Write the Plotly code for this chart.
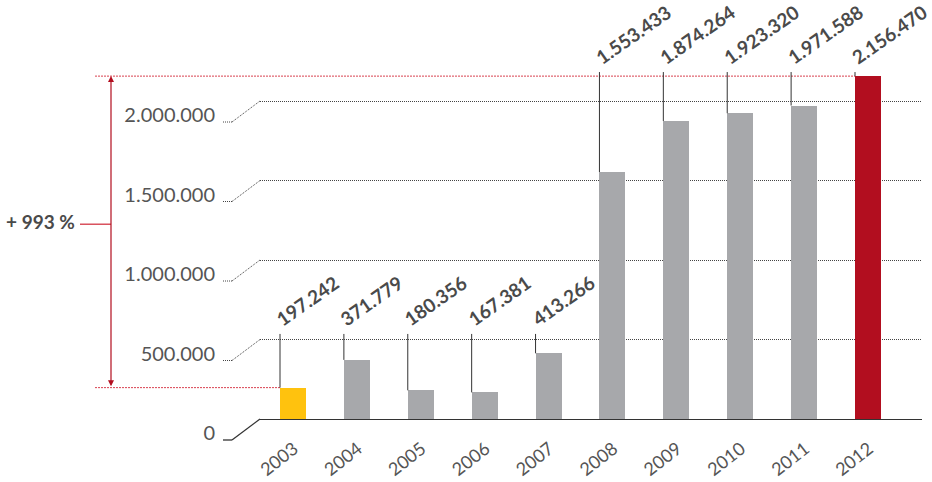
import plotly.graph_objects as go

# ---- data ----
years = [2003, 2004, 2005, 2006, 2007, 2008, 2009, 2010, 2011, 2012]
values = [197242, 371779, 180356, 167381, 413266, 1553433, 1874264, 1923320, 1971588, 2156470]
ytick_vals = [0, 500000, 1000000, 1500000, 2000000]
ytick_text = ["0", "500.000", "1.000.000", "1.500.000", "2.000.000"]

# ---- style / layout constants ----
W, H = 932, 482
ML, MR = 260, 10
XR = [2002.4835, 2012.845]
YR = [-396226, 2635220]
BW = 0.407
COL_FIRST, COL_MID, COL_LAST = "#FFC20E", "#A7A8AB", "#B20E1F"
colors = [COL_FIRST] + [COL_MID] * (len(years) - 2) + [COL_LAST]
FONT = "Lato"
TXT = "#4a4a4a"
LEADER_LOW, LEADER_HIGH = 535000, 2182000
RED_DOT = "#D8414F"
GRID_DASH = "1px,1px"


def fmt(v):
    return f"{v:,}".replace(",", ".")


fig = go.Figure()
fig.add_trace(go.Bar(x=years, y=values, width=BW, marker=dict(color=colors, line=dict(width=0)),
                     hoverinfo="skip"))

shapes = []
annotations = []

# connectors from tick labels to gridlines
for v in ytick_vals:
    dash = "solid" if v == 0 else GRID_DASH
    col = "#333" if v == 0 else "#444"
    wid = 1.3 if v == 0 else 1
    for (a, b, c, d) in [(-37, -21, -28, -21), (-28, -21, 0, 0)]:
        shapes.append(dict(type="line", xref="paper", yref="y", xsizemode="pixel", ysizemode="pixel",
                           xanchor=0, yanchor=v, x0=a, y0=b, x1=c, y1=d,
                           line=dict(color=col, width=wid, dash=dash), layer="above"))

# leader lines + value labels
for yr, v in zip(years, values):
    top = LEADER_HIGH if v > 1000000 else LEADER_LOW
    xl = yr - BW / 2
    shapes.append(dict(type="line", xref="x", yref="y", x0=xl, x1=xl, y0=top, y1=v,
                       line=dict(color="#333", width=1), layer="above"))
    annotations.append(dict(xref="x", yref="y", x=xl, y=top, text="<b>" + fmt(v) + "</b>",
                            showarrow=False, textangle=-35, xanchor="left", yanchor="bottom",
                            xshift=-11, yshift=1,
                            font=dict(family=FONT, size=19, color=TXT)))

# red dotted reference lines (first & last year)
for yr, v in [(years[0], values[0]), (years[-1], values[-1])]:
    shapes.append(dict(type="line", xref="paper", yref="y", x0=(95 - ML) / (W - ML - MR), x1=0,
                       y0=v, y1=v, line=dict(color=RED_DOT, width=1, dash="2px,1px"), layer="above"))
    shapes.append(dict(type="line", xref="x", yref="y", x0=XR[0], x1=yr - BW / 2,
                       y0=v, y1=v, line=dict(color=RED_DOT, width=1, dash="2px,1px"), layer="below"))

# growth arrow
pw = W - ML - MR
ax_x = (111 - ML) / pw
annotations.append(dict(xref="paper", yref="y", x=ax_x, y=values[-1], ax=0, ayref="y", ay=values[0],
                        text="", showarrow=True, arrowhead=2, arrowside="end+start", arrowsize=1,
                        arrowwidth=1.2, arrowcolor=COL_LAST, standoff=0, startstandoff=0))
growth = round((values[-1] / values[0] - 1) * 100)
mid_v = 1225000
shapes.append(dict(type="line", xref="paper", yref="y", x0=(80 - ML) / pw, x1=ax_x, y0=mid_v, y1=mid_v,
                   line=dict(color="#D9535F", width=1.5), layer="above"))
annotations.append(dict(xref="paper", yref="y", x=(4 - ML) / pw, y=mid_v, text=f"<b>+ {growth} %</b>",
                        showarrow=False, xanchor="left", yanchor="middle", yshift=3,
                        font=dict(family=FONT, size=19, color=TXT)))

fig.update_layout(
    template="none",
    width=W, height=H,
    margin=dict(l=ML, r=MR, t=0, b=0, pad=0),
    paper_bgcolor="white", plot_bgcolor="white",
    showlegend=False,
    bargap=0,
    shapes=shapes,
    annotations=annotations,
    xaxis=dict(range=XR, tickvals=years, ticktext=[str(y) for y in years], tickangle=-38,
               showgrid=False, zeroline=False, showline=False, ticks="",
               anchor="free", position=(0 - YR[0]) / (YR[1] - YR[0]),
               ticklabelstandoff=15, ticklabelshift=1,
               tickfont=dict(family=FONT, size=18, color="#555"), automargin=False, fixedrange=True),
    yaxis=dict(range=YR, tickvals=ytick_vals, ticktext=ytick_text,
               showgrid=True, gridcolor="#444", gridwidth=1, griddash=GRID_DASH,
               zeroline=True, zerolinecolor="#333", zerolinewidth=1.3,
               showline=False, ticks="", ticklabelstandoff=44, ticklabelshift=14,
               tickfont=dict(family=FONT, size=20, color="#555"), automargin=False, fixedrange=True),
)

fig.write_html("out.html")
